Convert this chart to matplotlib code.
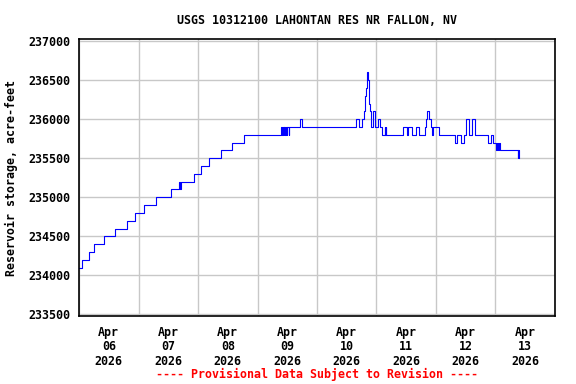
import matplotlib
matplotlib.use("Agg")
import matplotlib.pyplot as plt
import matplotlib.dates as mdates
import pandas as pd

plt.rcParams['font.family'] = ['DejaVu Sans Mono']
plt.rcParams['font.weight'] = 'bold'
plt.rcParams['axes.titleweight'] = 'bold'
plt.rcParams['axes.labelweight'] = 'bold'

# storage readings: hours after 2026-04-06 00:00 where the value changes
change_hours = [0, 1.1, 4.0, 6.2, 10.2, 14.7, 19.5, 22.7, 26.2, 31.2,
                37.2, 40.5, 40.7, 41.0, 46.3, 49.2, 52.4, 57.4, 61.8, 66.6,
                81.5, 81.8, 82.2, 82.5, 82.8, 83.0, 83.5, 83.7, 84.0, 84.6,
                84.9, 89.1, 90.1, 111.6, 113.1, 114.3, 115.1, 115.5, 115.7, 116.0,
                116.3, 116.6, 116.8, 117.1, 117.4, 117.7, 117.9, 118.4, 119.2, 120.7,
                121.5, 122.1, 123.4, 123.6, 123.8, 124.0, 130.8, 132.4, 132.9, 134.4,
                136.0, 137.3, 139.7, 140.0, 140.4, 141.3, 141.8, 142.4, 142.7, 145.3,
                151.6, 152.6, 154.0, 155.5, 156.1, 157.2, 158.6, 159.6, 165.1, 166.1,
                167.1, 168.2, 168.5, 169.1, 169.4, 169.8, 176.9, 177.1, 177.3]
storage = [234100, 234200, 234300, 234400, 234500, 234600, 234700, 234800, 234900, 235000,
           235100, 235200, 235100, 235200, 235300, 235400, 235500, 235600, 235700, 235800,
           235900, 235800, 235900, 235800, 235900, 235800, 235900, 235800, 235900, 235800,
           235900, 236000, 235900, 236000, 235900, 236000, 236100, 236300, 236400, 236500,
           236600, 236500, 236400, 236200, 236100, 236000, 235900, 236100, 235900, 236000,
           235900, 235800, 235900, 235800, 235900, 235800, 235900, 235800, 235900, 235800,
           235900, 235800, 235900, 236000, 236100, 236000, 235900, 235800, 235900, 235800,
           235700, 235800, 235700, 235800, 236000, 235800, 236000, 235800, 235700, 235800,
           235700, 235600, 235700, 235600, 235700, 235600, 235500, 235600, 235500]

start = pd.Timestamp('2026-04-06 00:00')
end = pd.Timestamp('2026-04-14 00:00')
times = [start + pd.Timedelta(hours=h) for h in change_hours]

fig = plt.figure(figsize=(5.76, 3.84), dpi=100)
ax = fig.add_axes([0.1372, 0.1771, 0.8263, 0.7213])

ax.plot(times, storage, color='#0000ff', lw=0.8, drawstyle='steps-post')

ax.set_xlim(start, end)
ax.set_ylim(233480, 237026)
ax.set_yticks(range(233500, 237001, 500))

ax.xaxis.set_major_locator(mdates.DayLocator())
ax.xaxis.set_major_formatter(mdates.DateFormatter(''))
ax.xaxis.set_minor_locator(mdates.HourLocator(byhour=12))
ax.xaxis.set_minor_formatter(mdates.DateFormatter('%b\n%d\n%Y'))

ax.grid(True, which='major', color='#c8c8c8', lw=1)
ax.tick_params(axis='both', which='both', length=0, labelsize=8.4)
ax.tick_params(axis='x', which='minor', pad=7)
ax.tick_params(axis='y', pad=6)
for lbl in ax.get_xticklabels(minor=True):
    lbl.set_linespacing(1.15)
for s in ax.spines.values():
    s.set_linewidth(1.2)

ax.set_ylabel('Reservoir storage, acre-feet', fontsize=8.4, labelpad=8)
ax.set_title('USGS 10312100 LAHONTAN RES NR FALLON, NV', fontsize=8.4, pad=11)
ax.text(0.5, -0.212, '---- Provisional Data Subject to Revision ----',
        transform=ax.transAxes, ha='center', va='center', color='red', fontsize=8.4)

fig.savefig('out.png', dpi=100)
